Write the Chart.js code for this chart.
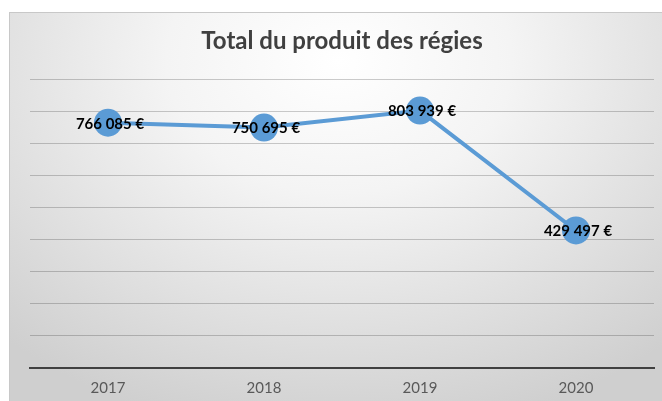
<!DOCTYPE html>
<html>
<head>
<meta charset="utf-8">
<script src="https://cdn.jsdelivr.net/npm/chart.js@4.4.1/dist/chart.umd.min.js"></script>
<style>
  html, body { margin: 0; padding: 0; background: #ffffff; overflow: hidden; }
  #frame {
    position: absolute; left: 9px; top: 12px; width: 660px; height: 400px;
    box-sizing: border-box; border: 1px solid #c8c8c8;
    background: radial-gradient(ellipse 75% 95% at 50% 12%, #ffffff 0%, #f4f4f4 35%, #e0e0e0 70%, #cfcfcf 100%);
  }
  #wrap { position: absolute; left: 0; top: 0; width: 662px; height: 413px; }
</style>
</head>
<body>
<div id="frame"></div>
<div id="wrap"><canvas id="myChart"></canvas></div>
<script>
const years = ["2017", "2018", "2019", "2020"];
const totals = [766085, 750695, 803939, 429497];
const chartTitle = "Total du produit des régies";

function euro(v) {
     return String(v).replace(/\B(?=(\d{3})+(?!\d))/g, " ") + " €";
}

// labels drawn on top of the points, like excel "centre"
const pointLabels = {
     id: "pointLabels",
     afterDatasetsDraw(chart) {
          const ctx = chart.ctx;
          const meta = chart.getDatasetMeta(0);
          ctx.save();
          ctx.font = "bold 15px Lato";
          ctx.fillStyle = "#000000";
          ctx.textAlign = "center";
          ctx.textBaseline = "middle";
          meta.data.forEach((pt, i) => {
               ctx.fillText(euro(totals[i]), pt.x + 2, pt.y + 1);
          });
          ctx.restore();
     }
};

const data = {
     labels: years,
     datasets: [
          {
               label: chartTitle,
               data: totals,
               borderColor: "#5b9bd5",
               backgroundColor: "#5b9bd5",
               borderWidth: 4,
               pointRadius: 14,
               pointBorderWidth: 0,
               pointBackgroundColor: "#5b9bd5",
               tension: 0
          }
     ]
};

const config = {
     type: "line",
     data: data,
     plugins: [pointLabels],
     options: {
          responsive: false,
          animation: false,
          layout: { autoPadding: false, padding: { left: 30, right: 8, top: 0, bottom: 5 } },
          plugins: {
               legend: { display: false },
               tooltip: { enabled: false },
               title: {
                    display: true,
                    text: chartTitle,
                    color: "#404040",
                    font: { family: "Lato", size: 24, weight: "bold", lineHeight: 1.2 },
                    padding: { top: 27, bottom: 24 }
               }
          },
          scales: {
               x: {
                    offset: true,
                    grid: { display: false, drawTicks: false },
                    border: { display: true, color: "#404040", width: 2 },
                    ticks: { color: "#595959", padding: 11, font: { family: "Lato", size: 15 } }
               },
               y: {
                    min: 0,
                    max: 900000,
                    ticks: { display: false, stepSize: 100000 },
                    grid: {
                         drawTicks: false,
                         color: (c) => c.tick && c.tick.value === 0 ? "#404040" : "rgba(0,0,0,0.2)",
                         lineWidth: (c) => c.tick && c.tick.value === 0 ? 2 : 1
                    },
                    border: { display: false }
               }
          }
     }
};

const canvas = document.getElementById("myChart");
canvas.width = 662;
canvas.height = 413;
const myChart = new Chart(canvas, config);
</script>
</body>
</html>
